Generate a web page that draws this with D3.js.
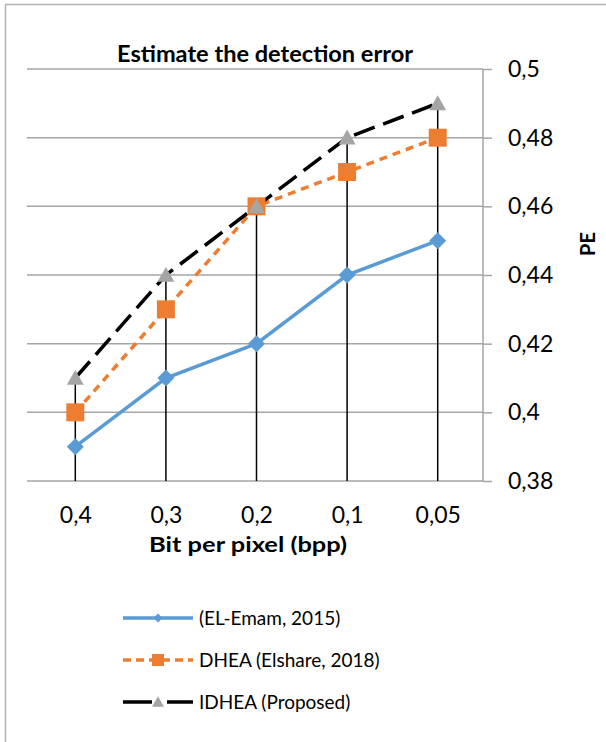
<!DOCTYPE html>
<html>
<head>
<meta charset="utf-8">
<script src="https://d3js.org/d3.v7.min.js"></script>
<style>
  html, body { margin: 0; padding: 0; background: #fff; }
  svg { display: block; }
  text { font-family: Lato, "Open Sans", sans-serif; fill: #000; }
</style>
</head>
<body>
<script>
const categories = ["0,4", "0,3", "0,2", "0,1", "0,05"];
const elEmam = [0.39, 0.41, 0.42, 0.44, 0.45];
const dhea = [0.40, 0.43, 0.46, 0.47, 0.48];
const idhea = [0.41, 0.44, 0.46, 0.48, 0.49];
const yTicks = [0.38, 0.40, 0.42, 0.44, 0.46, 0.48, 0.50];
const seriesNames = ["(EL-Emam, 2015)", "DHEA (Elshare, 2018)", "IDHEA (Proposed)"];
const chartTitle = "Estimate the detection error";
const xTitle = "Bit per pixel (bpp)";
const yTitle = "PE";

const W = 606, H = 742;
const svg = d3.select("body").append("svg").attr("width", W).attr("height", H);

// outer frame (top and left visible)
svg.append("line").attr("x1", 5).attr("x2", W).attr("y1", 4.5).attr("y2", 4.5)
  .attr("stroke", "#b3b3b3").attr("stroke-width", 1.5);
svg.append("line").attr("x1", 5.5).attr("x2", 5.5).attr("y1", 4).attr("y2", H)
  .attr("stroke", "#b3b3b3").attr("stroke-width", 1.5);

const plotL = 30, plotR = 483, plotT = 69, plotB = 481;
const x = d3.scalePoint().domain(categories).range([plotL, plotR]).padding(0.5);
const y = d3.scaleLinear().domain([0.38, 0.5]).range([plotB, plotT]);

// gridlines
svg.append("g").selectAll("line").data(yTicks).join("line")
  .attr("x1", plotL - 3).attr("x2", plotR)
  .attr("y1", d => y(d)).attr("y2", d => y(d))
  .attr("stroke", "#a6a6a6").attr("stroke-width", 1.5);

// right axis
const yAxis = d3.axisRight(y).tickValues(yTicks).tickSize(9).tickPadding(16)
  .tickFormat(d => d3.format("")(+d.toFixed(2)).replace(".", ","));
const ya = svg.append("g").attr("transform", `translate(${plotR},0)`).call(yAxis);
ya.select(".domain").attr("stroke", "#a6a6a6").attr("stroke-width", 1.5)
  .attr("d", `M0,${plotT}V${plotB}`);
ya.selectAll(".tick line").attr("stroke", "#a6a6a6").attr("stroke-width", 1.5);
ya.selectAll(".tick text").attr("font-size", 23).attr("font-family", "Lato, sans-serif").attr("fill", "#000");

// x axis labels
const xAxis = d3.axisBottom(x).tickSize(0).tickPadding(26);
const xa = svg.append("g").attr("transform", `translate(0,${plotB})`).call(xAxis);
xa.select(".domain").remove();
xa.selectAll(".tick text").attr("font-size", 23).attr("font-family", "Lato, sans-serif").attr("fill", "#000");

// drop lines
const maxVals = categories.map((c, i) => Math.max(elEmam[i], dhea[i], idhea[i]));
svg.append("g").selectAll("line").data(categories).join("line")
  .attr("x1", d => x(d)).attr("x2", d => x(d))
  .attr("y1", (d, i) => y(maxVals[i])).attr("y2", y(0.38))
  .attr("stroke", "#000").attr("stroke-width", 1.5);

const series = [
  { name: seriesNames[0], values: elEmam, color: "#5b9bd5", dash: null, marker: "diamond", mcolor: "#5b9bd5" },
  { name: seriesNames[1], values: dhea, color: "#ed7d31", dash: "8,6", marker: "square", mcolor: "#ed7d31" },
  { name: seriesNames[2], values: idhea, color: "#000000", dash: "22,9", marker: "triangle", mcolor: "#a5a5a5" }
];

const line = d3.line().x((d, i) => x(categories[i])).y(d => y(d));

function markerPath(type, s) {
  if (type === "diamond") return `M0,${-s}L${s},0L0,${s}L${-s},0Z`;
  if (type === "square") return `M${-s},${-s}H${s}V${s}H${-s}Z`;
  return `M0,${-s * 0.95}L${s},${s * 0.8}L${-s},${s * 0.8}Z`;
}
const msize = { diamond: 8.5, square: 9, triangle: 8.5 };
const lsize = { diamond: 4.5, square: 6, triangle: 6 };

series.forEach(s => {
  svg.append("path").datum(s.values).attr("d", line)
    .attr("fill", "none").attr("stroke", s.color).attr("stroke-width", 3.5)
    .attr("stroke-dasharray", s.dash);
});
series.forEach(s => {
  svg.append("g").selectAll("path").data(s.values).join("path")
    .attr("transform", (d, i) => `translate(${x(categories[i])},${y(d)})`)
    .attr("d", markerPath(s.marker, msize[s.marker]))
    .attr("fill", s.mcolor);
});

// titles
svg.append("text").attr("x", 117).attr("y", 62)
  .attr("font-size", 23).attr("font-weight", "bold")
  .attr("textLength", 296).attr("lengthAdjust", "spacingAndGlyphs").text(chartTitle);
svg.append("text").attr("x", 149).attr("y", 552)
  .attr("font-size", 20.5).attr("font-weight", "bold")
  .attr("textLength", 198).attr("lengthAdjust", "spacingAndGlyphs").text(xTitle);
svg.append("text").attr("transform", "translate(595,244) rotate(-90)").attr("text-anchor", "middle")
  .attr("font-size", 20).attr("font-weight", "bold").text(yTitle);

// legend
const legY = [618, 660, 702];
series.forEach((s, i) => {
  const g = svg.append("g").attr("transform", `translate(0,${legY[i]})`);
  if (s.marker === "triangle") {
    g.append("line").attr("x1", 123).attr("x2", 152).attr("stroke", s.color).attr("stroke-width", 3.5);
    g.append("line").attr("x1", 167).attr("x2", 193).attr("stroke", s.color).attr("stroke-width", 3.5);
  } else {
    g.append("line").attr("x1", 123).attr("x2", 193).attr("stroke", s.color).attr("stroke-width", 3.5)
      .attr("stroke-dasharray", s.dash ? "8,5" : null);
  }
  g.append("path").attr("transform", "translate(158,0)")
    .attr("d", markerPath(s.marker, lsize[s.marker])).attr("fill", s.mcolor);
  g.append("text").attr("x", 199).attr("y", 0).attr("dy", "0.35em")
    .attr("font-size", 19).text(s.name);
});
</script>
</body>
</html>
